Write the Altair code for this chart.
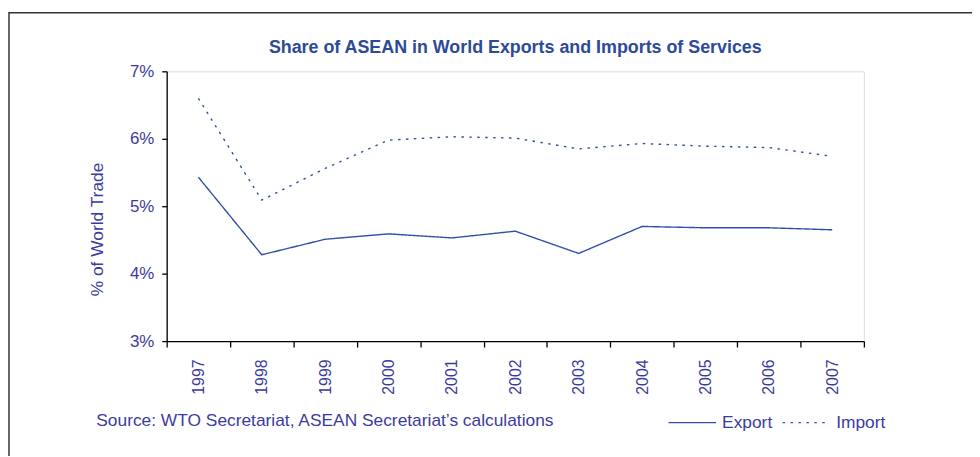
import altair as alt
import pandas as pd

years = ["1997", "1998", "1999", "2000", "2001", "2002", "2003", "2004", "2005", "2006", "2007"]
export_vals = [5.43, 4.28, 4.51, 4.59, 4.53, 4.63, 4.30, 4.70, 4.68, 4.68, 4.65]
import_vals = [6.60, 5.09, 5.56, 5.98, 6.03, 6.01, 5.85, 5.93, 5.89, 5.87, 5.74]
series_names = ["Export", "Import"]
y_ticks = [3, 4, 5, 6, 7]
title_text = "Share of ASEAN in World Exports and Imports of Services"
y_title = "% of World Trade"
source_text = "Source: WTO Secretariat, ASEAN Secretariat\u2019s calculations"

FONT = "Liberation Sans"
LABEL_COLOR = "#3B3B9E"
LINE_COLOR = "#3050A8"
TITLE_COLOR = "#2D4A9A"

rows = []
for y, e, i in zip(years, export_vals, import_vals):
    rows.append({"year": y, "value": e, "series": series_names[0]})
    rows.append({"year": y, "value": i, "series": series_names[1]})
df = pd.DataFrame(rows)

W, H = 703, 272

lines = alt.Chart(df).mark_line(strokeWidth=1.4, color=LINE_COLOR).encode(
    x=alt.X(
        "year:O",
        scale=alt.Scale(type="band", paddingInner=0, paddingOuter=0),
        bandPosition=0.5,
        axis=alt.Axis(
            title=None,
            tickBand="extent",
            labelAngle=270,
            labelFontSize=16,
            labelFont=FONT,
            labelColor=LABEL_COLOR,
            labelPadding=12,
            domainColor="#000000",
            tickColor="#000000",
            tickSize=6,
            domainWidth=1.3,
            tickWidth=1.3,
            grid=False,
        ),
    ),
    y=alt.Y(
        "value:Q",
        scale=alt.Scale(domain=[3, 7], nice=False, zero=False),
        axis=alt.Axis(
            values=y_ticks,
            labelExpr="datum.value + '%'",
            title=y_title,
            titleFont=FONT,
            titleFontSize=17.5,
            titleFontWeight="normal",
            titleColor=LABEL_COLOR,
            titleX=-70,
            titleY=159,
            titleAngle=270,
            titleAlign="center",
            titleBaseline="middle",
            labelFontSize=17,
            labelFont=FONT,
            labelColor=LABEL_COLOR,
            labelPadding=8,
            domainColor="#000000",
            tickColor="#000000",
            tickSize=5,
            domainWidth=1.3,
            tickWidth=1.3,
            grid=False,
        ),
    ),
    strokeDash=alt.StrokeDash(
        "series:N",
        scale=alt.Scale(domain=series_names, range=[[1, 0], [2.5, 5.5]]),
        legend=alt.Legend(
            title=None,
            orient="none",
            direction="horizontal",
            legendX=505,
            legendY=329,
            symbolType="stroke",
            symbolSize=2304,
            symbolStrokeColor=LINE_COLOR,
            symbolStrokeWidth=1.4,
            labelFont=FONT,
            labelFontSize=17.5,
            labelColor=LABEL_COLOR,
            labelOffset=5,
            columnPadding=7,
        ),
    ),
)

src = alt.Chart(pd.DataFrame({"t": [source_text]})).mark_text(
    align="left", baseline="middle", font=FONT, fontSize=17.5, color=LABEL_COLOR
).encode(text="t:N", x=alt.value(-71), y=alt.value(353))

ttl = alt.Chart(pd.DataFrame({"t": [title_text]})).mark_text(
    align="center", baseline="alphabetic", font=FONT, fontSize=18,
    fontWeight="bold", color=TITLE_COLOR
).encode(text="t:N", x=alt.value(W / 2), y=alt.value(-18))

border = alt.Chart(pd.DataFrame({"b": [0]})).mark_rect(
    fill=None, stroke="#333333", strokeWidth=1.5
).encode(x=alt.value(-159), x2=alt.value(W + 200), y=alt.value(-59), y2=alt.value(H + 200))

chart = alt.layer(border, lines, src, ttl).properties(
    width=W,
    height=H,
    autosize=alt.AutoSizeParams(type="none"),
    padding={"left": 160, "top": 62, "right": 109, "bottom": 114},
).configure_view(stroke=None).configure(background="white")

chart.save("out.html", embed_options={"renderer": "svg", "actions": False})
